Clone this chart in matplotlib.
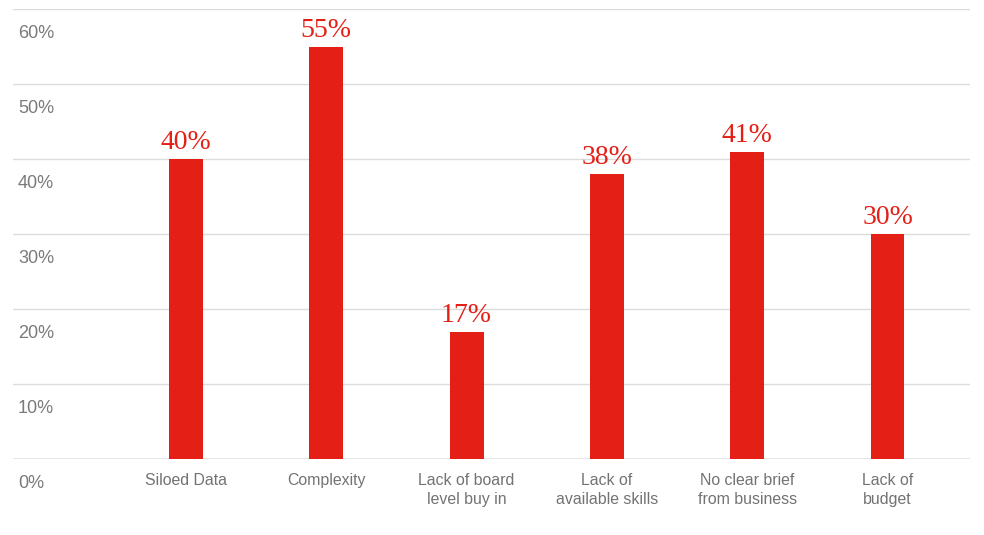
import matplotlib
matplotlib.use("Agg")
import matplotlib.pyplot as plt
from matplotlib import transforms

categories = ["Siloed Data", "Complexity", "Lack of board\nlevel buy in",
              "Lack of\navailable skills", "No clear brief\nfrom business", "Lack of\nbudget"]
values = [40, 55, 17, 38, 41, 30]
value_labels = ["40%", "55%", "17%", "38%", "41%", "30%"]
y_ticks = [0, 10, 20, 30, 40, 50, 60]
y_tick_labels = ["0%", "10%", "20%", "30%", "40%", "50%", "60%"]

RED = "#e31f16"
GRID = "#dcdcdc"
TEXT_GRAY = "#7a7a7a"

fig = plt.figure(figsize=(9.84, 5.35), dpi=100)
ax = fig.add_axes([13 / 984, 76 / 535, 957 / 984, 450 / 535])

x = list(range(len(categories)))
ax.bar(x, values, width=0.242, color=RED, zorder=3)

ax.set_xlim(-1.233, 5.588)
ax.set_ylim(0, 60)

# horizontal gridlines
for t in y_ticks:
    if t == 0:
        ax.axhline(t, color="#e2e2e2", lw=2.0, zorder=2)
    else:
        ax.axhline(t, color=GRID, lw=1.0, zorder=1)

# y labels sit just below their gridline, at the left edge
base = transforms.blended_transform_factory(ax.transAxes, ax.transData)
ytrans = base + transforms.ScaledTranslation(5 / 100, -29 / 100, fig.dpi_scale_trans)
for t, lab in zip(y_ticks, y_tick_labels):
    ax.text(0, t, lab, transform=ytrans, ha="left", va="baseline",
            fontsize=13, color=TEXT_GRAY, family="Liberation Sans")

# value labels above bars
for xi, v, lab in zip(x, values, value_labels):
    ax.annotate(lab, (xi, v), xytext=(0, 7), textcoords="offset points",
                ha="center", va="baseline", fontsize=20, color=RED,
                family="Liberation Serif")

ax.set_xticks(x)
ax.set_xticklabels(categories, fontsize=11.4, color="#737373",
                   family="Liberation Sans", linespacing=1.35)
ax.tick_params(axis="x", length=0, pad=10)
ax.set_yticks([])
for s in ax.spines.values():
    s.set_visible(False)

fig.savefig("out.png", dpi=100)
